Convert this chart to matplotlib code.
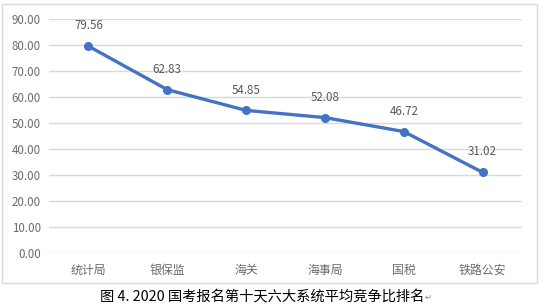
import matplotlib
matplotlib.use("Agg")
import matplotlib.pyplot as plt
from matplotlib.patches import Rectangle

plt.rcParams['font.family'] = ['Noto Sans CJK SC', 'DejaVu Sans']

categories = ["统计局", "银保监", "海关", "海事局", "国税", "铁路公安"]
values = [79.56, 62.83, 54.85, 52.08, 46.72, 31.02]
yticks = [0, 10, 20, 30, 40, 50, 60, 70, 80, 90]
caption = "图 4. 2020 国考报名第十天六大系统平均竞争比排名"

W, H = 540, 305
fig = plt.figure(figsize=(W / 100, H / 100), dpi=100)
fig.patch.set_facecolor("white")

# chart border
fig.patches.append(Rectangle((2 / W, 1 - 283 / H), 535 / W, 279 / H,
                             transform=fig.transFigure, fill=False,
                             edgecolor="#D9D9D9", linewidth=1.0))

ax = fig.add_axes([49 / W, 1 - 253 / H, 473 / W, 234 / H])
x = list(range(len(categories)))
ax.plot(x, values, color="#4472C4", linewidth=2.4, marker="o",
        markersize=5.5, solid_capstyle="round", zorder=3)
for xi, v in zip(x, values):
    ax.annotate(f"{v:.2f}", (xi, v), xytext=(0, 10), textcoords="offset points",
                ha="center", va="bottom", fontsize=8.3, color="#595959")

ax.set_xlim(-0.5, len(categories) - 0.5)
ax.set_ylim(0, 90)
ax.set_yticks(yticks)
ax.set_yticklabels([f"{t:.2f}" for t in yticks])
ax.set_xticks(x)
ax.set_xticklabels(categories)
ax.grid(axis="y", color="#D9D9D9", linewidth=1.0)
ax.set_axisbelow(True)
for s in ax.spines.values():
    s.set_visible(False)
ax.tick_params(axis="both", length=0, labelsize=8.3, colors="#6b6b6b")
ax.tick_params(axis="x", labelsize=8.6, pad=8)
ax.tick_params(axis="y", pad=6)

fig.text(262 / W, 1 - 296 / H, caption, ha="center", va="center",
         fontsize=10.3, color="black", weight="medium")
fig.text(428 / W, 1 - 297 / H, "↵", ha="center", va="center",
         fontsize=6, color="#888888", family=["DejaVu Sans"])

fig.savefig("out.png", dpi=100, facecolor="white")
